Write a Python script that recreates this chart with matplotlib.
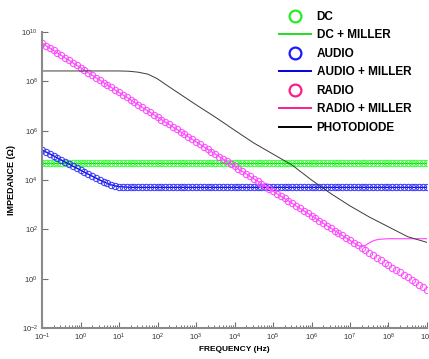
import numpy as np
import matplotlib
matplotlib.use("Agg")
import matplotlib.pyplot as plt
from matplotlib.lines import Line2D
from matplotlib.ticker import LogLocator, FixedLocator, FuncFormatter, NullFormatter

plt.rcParams['font.family'] = ['Liberation Sans', 'DejaVu Sans']
plt.rcParams['mathtext.default'] = 'regular'

# sweep: 10 points per decade, 0.1 Hz .. 1 GHz
freq = np.logspace(-1, 9, 101)

# log10 of impedance, one value per marker (one row = one decade)
dc_log = [4.70, 4.70, 4.70, 4.70, 4.70, 4.70, 4.70, 4.70, 4.70, 4.70,
          4.70, 4.70, 4.70, 4.70, 4.70, 4.70, 4.70, 4.70, 4.70, 4.70,
          4.70, 4.70, 4.70, 4.70, 4.70, 4.70, 4.70, 4.70, 4.70, 4.70,
          4.70, 4.70, 4.70, 4.70, 4.70, 4.70, 4.70, 4.70, 4.70, 4.70,
          4.70, 4.70, 4.70, 4.70, 4.70, 4.70, 4.70, 4.70, 4.70, 4.70,
          4.70, 4.70, 4.70, 4.70, 4.70, 4.70, 4.70, 4.70, 4.70, 4.70,
          4.70, 4.70, 4.70, 4.70, 4.70, 4.70, 4.70, 4.70, 4.70, 4.70,
          4.70, 4.70, 4.70, 4.70, 4.70, 4.70, 4.70, 4.70, 4.70, 4.70,
          4.70, 4.70, 4.70, 4.70, 4.70, 4.70, 4.70, 4.70, 4.70, 4.70,
          4.70, 4.70, 4.70, 4.70, 4.70, 4.70, 4.70, 4.70, 4.70, 4.70,
          4.70]

audio_log = [5.22, 5.14, 5.06, 4.98, 4.89, 4.81, 4.73, 4.65, 4.56, 4.48,
             4.40, 4.32, 4.24, 4.16, 4.08, 4.00, 3.93, 3.86, 3.80, 3.76,
             3.73, 3.72, 3.71, 3.70, 3.70, 3.70, 3.70, 3.70, 3.70, 3.70,
             3.70, 3.70, 3.70, 3.70, 3.70, 3.70, 3.70, 3.70, 3.70, 3.70,
             3.70, 3.70, 3.70, 3.70, 3.70, 3.70, 3.70, 3.70, 3.70, 3.70,
             3.70, 3.70, 3.70, 3.70, 3.70, 3.70, 3.70, 3.70, 3.70, 3.70,
             3.70, 3.70, 3.70, 3.70, 3.70, 3.70, 3.70, 3.70, 3.70, 3.70,
             3.70, 3.70, 3.70, 3.70, 3.70, 3.70, 3.70, 3.70, 3.70, 3.70,
             3.70, 3.70, 3.70, 3.70, 3.70, 3.70, 3.70, 3.70, 3.70, 3.70,
             3.70, 3.70, 3.70, 3.70, 3.70, 3.70, 3.70, 3.70, 3.70, 3.70,
             3.70]

radio_log = [9.55, 9.45, 9.35, 9.25, 9.15, 9.05, 8.95, 8.85, 8.75, 8.65,
             8.55, 8.45, 8.35, 8.25, 8.15, 8.05, 7.95, 7.85, 7.75, 7.65,
             7.55, 7.45, 7.35, 7.25, 7.15, 7.05, 6.95, 6.85, 6.75, 6.65,
             6.55, 6.45, 6.35, 6.25, 6.15, 6.05, 5.95, 5.85, 5.75, 5.65,
             5.55, 5.45, 5.35, 5.25, 5.15, 5.05, 4.95, 4.85, 4.75, 4.65,
             4.55, 4.45, 4.35, 4.25, 4.15, 4.05, 3.95, 3.85, 3.75, 3.65,
             3.55, 3.45, 3.35, 3.25, 3.15, 3.05, 2.95, 2.85, 2.75, 2.65,
             2.55, 2.45, 2.35, 2.25, 2.15, 2.05, 1.95, 1.85, 1.75, 1.65,
             1.55, 1.45, 1.35, 1.25, 1.15, 1.05, 0.95, 0.85, 0.75, 0.65,
             0.55, 0.45, 0.35, 0.25, 0.15, 0.05, -0.05, -0.15, -0.25, -0.35,
             -0.45]

radio_miller_log = [9.55, 9.45, 9.35, 9.25, 9.15, 9.05, 8.95, 8.85, 8.75, 8.65,
                    8.55, 8.45, 8.35, 8.25, 8.15, 8.05, 7.95, 7.85, 7.75, 7.65,
                    7.55, 7.45, 7.35, 7.25, 7.15, 7.05, 6.95, 6.85, 6.75, 6.65,
                    6.55, 6.45, 6.35, 6.25, 6.15, 6.05, 5.95, 5.85, 5.75, 5.65,
                    5.55, 5.45, 5.35, 5.25, 5.15, 5.05, 4.95, 4.85, 4.75, 4.65,
                    4.55, 4.45, 4.35, 4.25, 4.15, 4.05, 3.95, 3.85, 3.75, 3.65,
                    3.55, 3.45, 3.35, 3.25, 3.15, 3.05, 2.95, 2.85, 2.75, 2.65,
                    2.55, 2.45, 2.35, 2.25, 2.15, 2.05, 1.95, 1.85, 1.75, 1.65,
                    1.55, 1.45, 1.35, 1.30, 1.35, 1.45, 1.53, 1.58, 1.60, 1.61,
                    1.62, 1.62, 1.62, 1.62, 1.62, 1.62, 1.62, 1.62, 1.62, 1.62,
                    1.62]

# photodiode curve (line only)
pd_logf = [-1.0, 1.0, 1.25, 1.5, 1.75, 2.0, 2.25, 2.5, 3.0, 3.5, 4.0,
           4.5, 5.0, 5.5, 6.0, 6.5, 7.0, 7.5, 8.0, 8.5, 9.0]
pd_log = [8.42, 8.42, 8.41, 8.37, 8.29, 8.10, 7.83, 7.57, 7.05, 6.55, 6.02,
          5.50, 5.05, 4.60, 4.00, 3.45, 2.95, 2.50, 2.10, 1.70, 1.47]

labels = ['DC', 'DC + MILLER', 'AUDIO', 'AUDIO + MILLER',
          'RADIO', 'RADIO + MILLER', 'PHOTODIODE']


def main():
    fig = plt.figure(figsize=(4.29, 3.59), dpi=100)
    ax = fig.add_axes([0.098, 0.0864, 0.8973, 0.8245])

    circ = dict(ls='none', marker='o', ms=4.6, mfc='none', mew=0.7)

    ax.plot(freq, 10 ** np.array(dc_log), color='#00d000', lw=0.9)
    ax.plot(freq, 10 ** np.array(dc_log), color='#33ff33', **circ)
    ax.plot(freq, 10 ** np.array(audio_log), color='#0000c8', lw=0.9)
    ax.plot(freq, 10 ** np.array(audio_log), color='#3333ff', **circ)
    ax.plot(freq, 10 ** np.array(radio_miller_log), color='#ff55ff', lw=0.9)
    ax.plot(freq, 10 ** np.array(radio_log), color='#ff44ff', **circ)
    ax.plot(10 ** np.array(pd_logf), 10 ** np.array(pd_log), color='#3a3a3a', lw=0.7)

    ax.set_xscale('log')
    ax.set_yscale('log')
    ax.set_xlim(1e-1, 1e9)
    ax.set_ylim(1e-2, 1e10)

    for s in ['top', 'right']:
        ax.spines[s].set_visible(False)
    for s in ['left', 'bottom']:
        ax.spines[s].set_color('#8a8a8a')
        ax.spines[s].set_linewidth(1.5)

    fmt = FuncFormatter(lambda v, p: r'$\mathdefault{10^{%d}}$' % round(np.log10(v)))
    ax.xaxis.set_major_locator(LogLocator(base=10, numticks=20))
    ax.xaxis.set_minor_locator(LogLocator(base=10, subs=np.arange(2, 10), numticks=20))
    ax.xaxis.set_major_formatter(fmt)
    ax.xaxis.set_minor_formatter(NullFormatter())
    ax.yaxis.set_major_locator(FixedLocator([1e-2, 1, 1e2, 1e4, 1e6, 1e8, 1e10]))
    ax.yaxis.set_minor_locator(FixedLocator([]))
    ax.yaxis.set_major_formatter(fmt)

    ax.tick_params(which='major', direction='in', length=4, width=0.8,
                   color='#707070', labelsize=5.5, labelcolor='#333333', pad=3)
    ax.tick_params(which='minor', direction='in', length=2.5, width=0.7, color='#707070')

    ax.set_xlabel('FREQUENCY (Hz)', fontsize=6, fontweight='bold', labelpad=2)
    ax.set_ylabel('IMPEDANCE (Ω)', fontsize=6.5, fontweight='bold', labelpad=4)

    handles = [
        Line2D([], [], ls='none', marker='o', ms=8.5, mfc='none', mew=1.6, color='#22ee22'),
        Line2D([], [], color='#22dd22', lw=1.4),
        Line2D([], [], ls='none', marker='o', ms=8.5, mfc='none', mew=1.6, color='#1a1aff'),
        Line2D([], [], color='#0000dd', lw=1.4),
        Line2D([], [], ls='none', marker='o', ms=8.5, mfc='none', mew=1.6, color='#ff1a8c'),
        Line2D([], [], color='#ff1a9a', lw=1.4),
        Line2D([], [], color='black', lw=1.4),
    ]
    fig.legend(handles, labels, loc='upper left', bbox_to_anchor=(273 / 429, 1 - 5 / 359),
               frameon=False, borderpad=0, handlelength=2.7, handletextpad=0.5,
               labelspacing=0.55, prop={'size': 8.5, 'weight': 'bold'})

    fig.savefig('out.png', dpi=100)


if __name__ == "__main__":
    main()
